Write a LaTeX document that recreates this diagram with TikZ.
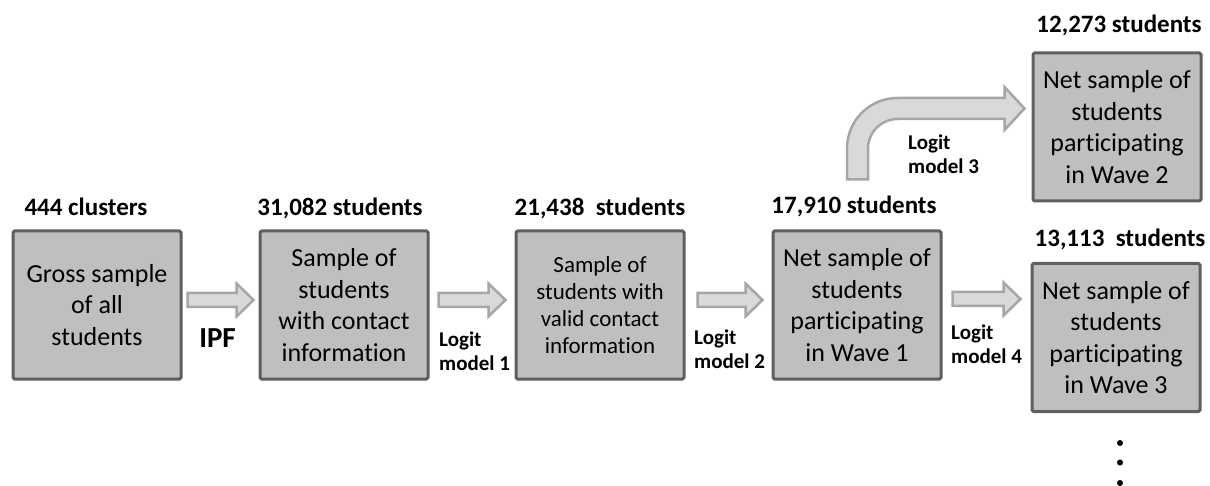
\documentclass[tikz,border=0pt]{standalone}
\usepackage{fontspec}
\setmainfont{Carlito}[Ligatures=NoCommon]
\usetikzlibrary{calc}
\definecolor{boxfill}{HTML}{BFBFBF}
\definecolor{boxline}{HTML}{5F5F5F}
\definecolor{arrfill}{HTML}{D9D9D9}
\definecolor{arrline}{HTML}{A6A6A6}
\tikzset{
  stagebox/.style={draw=boxline, fill=boxfill, line width=3pt, rounded corners=1.5pt,
    minimum width=168pt, minimum height=148pt, align=center, inner sep=0pt,
    font=\fontsize{26}{31.5}\selectfont},
  smallbox/.style={stagebox, font=\fontsize{23}{27}\selectfont},
  countlbl/.style={anchor=base, inner sep=0pt, font=\bfseries\fontsize{25}{29}\selectfont},
  modellbl/.style={anchor=base west, inner sep=0pt, align=left, font=\bfseries\fontsize{21}{24}\selectfont},
  blockarrow/.style={draw=arrline, fill=arrfill, line width=2.5pt, line join=miter},
}
\newcommand\hblockarrow[2]{% #1 start (shaft centre), #2 tip
  \draw[blockarrow] ($(#1)+(0,7)$) -- ($(#2)+(-17,7)$) -- ($(#2)+(-17,16.5)$) -- (#2)
    -- ($(#2)+(-17,-16.5)$) -- ($(#2)+(-17,-7)$) -- ($(#1)+(0,-7)$) -- cycle;}
\begin{document}
\begin{tikzpicture}[x=1pt,y=1pt]
\useasboundingbox (0,0) rectangle (1210,-486);

% boxes
\node[stagebox] (b1) at (97,-305) {Gross sample\\of all\\students};
\node[stagebox] (b2) at (344,-305) {Sample of\\students\\with contact\\information};
\node[smallbox] (b3) at (600,-305) {Sample of\\students with\\valid contact\\information};
\node[stagebox] (b4) at (857,-305) {Net sample of\\students\\participating\\in Wave 1};
\node[stagebox] (b5) at (1117,-127) {Net sample of\\students\\participating\\in Wave 2};
\node[stagebox] (b6) at (1116,-337.5) {Net sample of\\students\\participating\\in Wave 3};

% count labels
\node[countlbl] (c1) at (86,-216) {444 clusters};
\node[countlbl] (c2) at (340,-216) {31,082 students};
\node[countlbl] (c3) at (600,-216) {21,438\ \ students};
\node[countlbl] (c4) at (854,-214) {17,910 students};
\node[countlbl] (c5) at (1119,-33) {12,273 students};
\node[countlbl] (c6) at (1120,-247) {13,113\ \ students};

% straight block arrows
\coordinate (a1s) at ($(b1.east)+(5,5)$);
\coordinate (a1e) at ($(b2.west)+(-5,5)$);
\coordinate (a2s) at ($(b2.east)+(9,5)$);
\coordinate (a2e) at ($(b3.west)+(-9,5)$);
\coordinate (a3s) at ($(b3.east)+(12,5)$);
\coordinate (a3e) at ($(b4.west)+(-9,5)$);
\coordinate (a4s) at ($(b4.east)+(10,6)$);
\coordinate (a4e) at ($(b6.west |- b4.east)+(-10,6)$);
\hblockarrow{a1s}{a1e}
\hblockarrow{a2s}{a2e}
\hblockarrow{a3s}{a3e}
\hblockarrow{a4s}{a4e}

% curved block arrow
\coordinate (a5s) at ($(b4.north)+(0.5,50)$);
\coordinate (a5e) at ($(b5.west)+(-7,18.5)$);
\draw[blockarrow] let \p1=(a5s), \p2=(a5e) in
  (\x1-10.5,\y1) -- (\x1-10.5,\y2-40) arc[start angle=180,end angle=90,radius=50.5]
  -- (\x2-20,\y2+10.5) -- (\x2-20,\y2+21.5) -- (\p2) -- (\x2-20,\y2-21.5)
  -- (\x2-20,\y2-10.5) -- (\x1+40,\y2-10.5) arc[start angle=90,end angle=180,radius=29.5]
  -- (\x1+10.5,\y1) -- cycle;

% method labels (base = baseline of the last line)
\node[anchor=base, inner sep=0pt, font=\bfseries\fontsize{29}{34}\selectfont] (ipf) at (217.5,-347) {IPF};
\node[modellbl] (m1) at (439,-370) {Logit\\model 1};
\node[modellbl] (m2) at (694,-368) {Logit\\model 2};
\node[modellbl] (m3) at (908,-174) {Logit\\model 3};
\node[modellbl] (m4) at (951,-363) {Logit\\model 4};

% continuation dots
\fill (1120,-443) circle[radius=3];
\fill (1120,-462.5) circle[radius=3];
\fill (1120,-483) circle[radius=3];
\end{tikzpicture}
\end{document}
